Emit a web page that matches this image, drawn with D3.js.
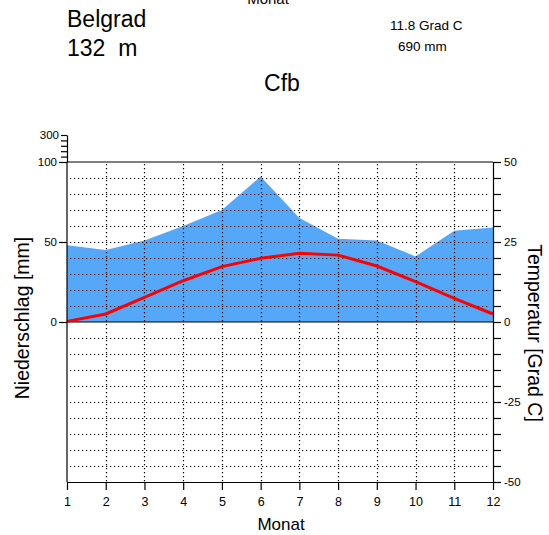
<!DOCTYPE html>
<html><head><meta charset="utf-8">
<script src="https://cdn.jsdelivr.net/npm/d3@7"></script>
<style>body{margin:0;background:#fff}svg{display:block;font-family:"Liberation Sans",Arial,sans-serif}</style>
</head><body><svg id="c" width="549" height="535"></svg>
<script>
const months = [1,2,3,4,5,6,7,8,9,10,11,12];
const precip = [48,45,51,60,70,91,65,52,51,41,57,59];
const temp = [0.2,2.5,7.7,12.9,17.3,19.9,21.5,20.9,17.5,12.6,7.4,2.5];
const precipTicks = [0,50,100];
const precipUpperTicks = [140,180,220,260,300];
const tempTicks = d3.range(-50,51,5);
const tempLabels = [-50,-25,0,25,50];

const svg = d3.select("#c");
const L=67,R=493,T=162,B=482;
const x = d3.scaleLinear().domain([1,12]).range([L,R]);
const yT = d3.scaleLinear().domain([-50,50]).range([B,T]);
const yP = d3.scaleLinear().domain([-100,100]).range([B,T]);
const yPU = d3.scaleLinear().domain([100,300]).range([yP(100), yP(100)-27]);

// precipitation area
svg.append("path").datum(months)
  .attr("fill","#55a8f8")
  .attr("d", d3.area().x(d=>x(d)).y0(yP(0)).y1((d,i)=>yP(precip[i])));

// dotted grid
const grid = svg.append("g").attr("stroke","#000").attr("stroke-width",1.2).attr("stroke-dasharray","1.2,2.8");
grid.selectAll("line.h").data(tempTicks.filter(t=>t!==0 && Math.abs(t)!==50)).join("line")
  .attr("x1",L+3).attr("x2",R-3).attr("y1",d=>Math.round(yT(d))+0.5).attr("y2",d=>Math.round(yT(d))+0.5);
grid.selectAll("line.v").data(months.slice(1,11)).join("line")
  .attr("x1",d=>Math.round(x(d))+0.5).attr("x2",d=>Math.round(x(d))+0.5).attr("y1",T+2).attr("y2",B);

// solid frame lines
svg.append("line").attr("x1",L).attr("x2",R).attr("y1",yT(50)).attr("y2",yT(50)).attr("stroke","#000").attr("stroke-width",1.2);
svg.append("line").attr("x1",L).attr("x2",R).attr("y1",yT(0)).attr("y2",yT(0)).attr("stroke","#000").attr("stroke-width",1.2);

// temperature line
svg.append("path").datum(months)
  .attr("fill","none").attr("stroke","#ff0000").attr("stroke-width",3)
  .attr("d", d3.line().x(d=>x(d)).y((d,i)=>yT(temp[i])));

function styleAxis(g){
  g.selectAll("path.domain").attr("stroke","#000").attr("stroke-width",1.2);
  g.selectAll(".tick line").attr("stroke","#000").attr("stroke-width",1.2);
  g.selectAll(".tick text").attr("fill","#000").style("font-size","11.5px");
}

// bottom axis
const gx = svg.append("g").attr("transform",`translate(0,${B})`)
  .call(d3.axisBottom(x).tickValues(months).tickSize(8).tickPadding(7).tickSizeOuter(0));
styleAxis(gx); gx.selectAll(".tick text").style("font-size","12.5px");

// left axis
const gl = svg.append("g").attr("transform",`translate(${L},0)`)
  .call(d3.axisLeft(yP).tickValues(precipTicks).tickSize(8).tickPadding(2).tickSizeOuter(0));
gl.select("path.domain").attr("d",`M0,${B}V${yP(100)}`);
styleAxis(gl);
const gu = svg.append("g").attr("transform",`translate(${L},0)`)
  .call(d3.axisLeft(yPU).tickValues(precipUpperTicks).tickSize(6).tickPadding(2).tickSizeOuter(0)
    .tickFormat(d=>d===300?String(d):""));
styleAxis(gu);

// right axis
const gr = svg.append("g").attr("transform",`translate(${R},0)`)
  .call(d3.axisRight(yT).tickValues(tempTicks).tickSize(8).tickPadding(3).tickSizeOuter(0)
    .tickFormat(d=>tempLabels.includes(d)?String(d):""));
styleAxis(gr);

// texts
const txt=(s,xx,yy,size,anchor)=>svg.append("text").attr("x",xx).attr("y",yy).style("font-size",size+"px").attr("text-anchor",anchor||"start").attr("fill","#000").text(s);
txt("Monat",268,4,15,"middle");
txt("Belgrad",67,27,23);
txt("132  m",67,56,23).style("white-space","pre");
txt("11.8 Grad C",390,30,13.5);
txt("690 mm",398,51,13.5);
txt("Cfb",282,91,23,"middle");
txt("Monat",281,530,17,"middle");
txt("Niederschlag [mm]",0,0,19.5,"middle").attr("transform","translate(29,318) rotate(-90)");
txt("Temperatur [Grad C]",0,0,19.5,"middle").attr("transform","translate(528,333) rotate(90)");
</script></body></html>
